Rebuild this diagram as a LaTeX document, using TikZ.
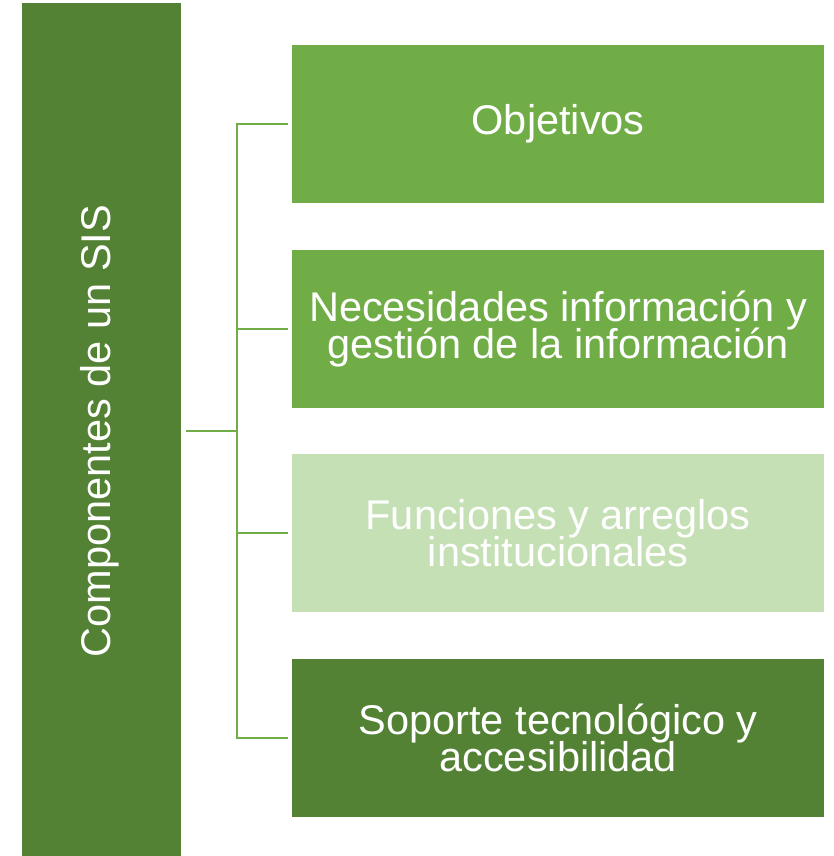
\documentclass[tikz,border=0pt]{standalone}
\usepackage{fontspec}
\setmainfont{Liberation Sans}
\definecolor{dkgreen}{HTML}{548235}
\definecolor{mdgreen}{HTML}{70AD47}
\definecolor{ltgreen}{HTML}{C5E0B4}
\newcommand{\bigtxt}{\fontsize{41.5}{37}\selectfont\lineskiplimit=-60pt\relax}
\begin{document}
\begin{tikzpicture}[x=1pt,y=-1pt,
  comp/.style={draw=none,minimum width=532pt,minimum height=158pt,anchor=north west,
    inner sep=0pt,text=white,align=center,font=\bigtxt},
  conn/.style={draw=mdgreen,line width=2.5pt}]
\useasboundingbox (0,0) rectangle (833,856);
\node[fill=dkgreen,minimum width=159pt,minimum height=853pt,anchor=north west,inner sep=0pt] (bar) at (22,3) {};
\node[rotate=90,text=white,font=\bigtxt] (bartext) at (100,431) {Componentes de un SIS};
\node[comp,fill=mdgreen] (b1) at (292,45) {Objetivos};
\node[comp,fill=mdgreen] (b2) at (292,250) {Necesidades información y\\gestión de la información};
\node[comp,fill=ltgreen] (b3) at (292,454) {Funciones y arreglos\\institucionales};
\node[comp,fill=dkgreen] (b4) at (292,659) {Soporte tecnológico y\\accesibilidad};
\coordinate (j) at (237,431);
\draw[conn] ([xshift=5pt]bar.east |- j) -- (j);
\draw[conn] ([xshift=-4pt]b1.west) -| (j);
\draw[conn] ([xshift=-4pt]b4.west) -| (j);
\draw[conn] ([xshift=-4pt]b2.west) -- (b2.west -| j);
\draw[conn] ([xshift=-4pt]b3.west) -- (b3.west -| j);
\end{tikzpicture}
\end{document}
